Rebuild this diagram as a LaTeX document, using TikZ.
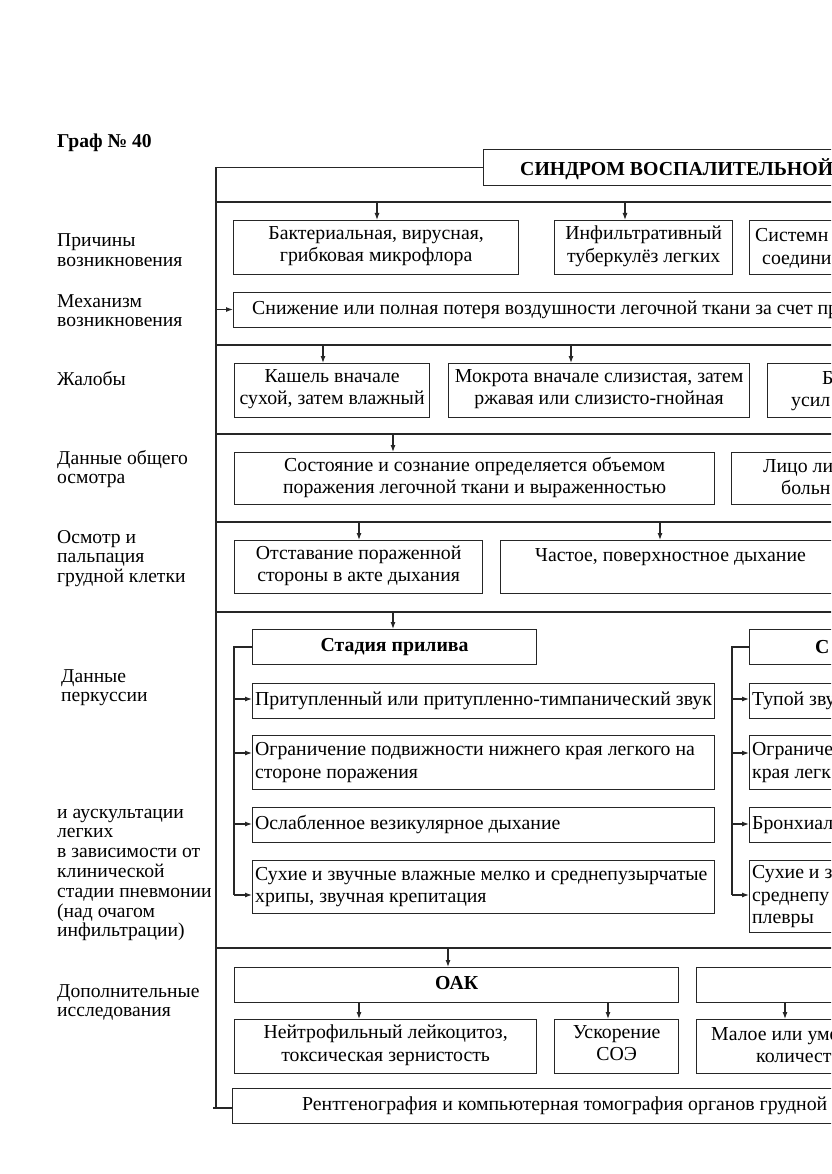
\documentclass[tikz,border=0pt]{standalone}
\usepackage{fontspec}
\setmainfont{Liberation Serif}
\usetikzlibrary{arrows.meta}
\newcommand\lbltab[1]{\begin{tabular}[t]{@{}l@{}}#1\end{tabular}}
\newcommand\bxfont{\fontsize{19.8}{22.5}\selectfont}
\tikzset{
  ln/.style={line width=1.15pt, draw=black!85},
  arr/.style={ln, -{Latex[length=7pt,width=5pt]}},
  bx/.style={draw=black!85, line width=1.25pt, inner sep=0pt, anchor=north west,
    font=\bxfont, align=center, execute at begin node=\strut, execute at end node=\strut},
  lbx/.style={bx, align=flush left, inner xsep=2.5pt},
  lab/.style={font=\fontsize{19.6}{19.8}\selectfont, inner sep=0pt, anchor=base west},
  frag/.style={font=\bxfont, inner sep=0pt, anchor=base west},
  boldtxt/.style={font=\bxfont\bfseries},
}
\begin{document}
\begin{tikzpicture}[x=1pt,y=-1pt]
\useasboundingbox (0,0) rectangle (831,1174);
\fill[white] (0,0) rectangle (831,1174);
\clip (0,0) rectangle (831,1174);

% left labels
\node[lab, font=\fontsize{19.6}{19.8}\selectfont\bfseries] (graf) at (57,148) {Граф № 40};
\node[lab] (l1) at (57,247) {\lbltab{Причины\\возникновения}};
\node[lab] (l2) at (57,307) {\lbltab{Механизм\\возникновения}};
\node[lab] (l3) at (57,385) {Жалобы};
\node[lab] (l4) at (57,464) {\lbltab{Данные общего\\осмотра}};
\node[lab] (l5) at (57,543) {\lbltab{Осмотр и\\пальпация\\грудной клетки}};
\node[lab] (l6) at (61,682) {\lbltab{Данные\\перкуссии}};
\node[lab] (l7) at (57,818) {\lbltab{и аускультации\\легких\\в зависимости от\\клинической\\стадии пневмонии\\(над очагом\\инфильтрации)}};
\node[lab] (l8) at (57,997) {\lbltab{Дополнительные\\исследования}};

% title
\node[bx, minimum width=420pt, minimum height=36pt] (title) at (483,149) {};
\node[frag, boldtxt] (titletxt) at (520,176) {СИНДРОМ ВОСПАЛИТЕЛЬНОЙ};

% bus
\coordinate (busend) at (216,1108);
\draw[ln] (title.west) -| (busend);

% row: causes
\coordinate (sep1) at (216,202);
\draw[ln] (sep1) -- ++(700,0);
\node[bx, minimum width=285pt, minimum height=54pt] (b1) at (233,220) {Бактериальная, вирусная,\\грибковая микрофлора};
\node[bx, minimum width=178pt, minimum height=54pt] (b2) at (554,220) {Инфильтративный\\туберкулёз легких};
\node[bx, minimum width=200pt, minimum height=54pt] (b3) at (749,220) {};
\node[frag] (b3a) at (755,242) {Системн};
\node[frag] (b3b) at (762,264) {соедини};
\coordinate (a11) at (377,202);
\coordinate (a12) at (625,202);
\draw[arr] (a11) -- (a11 |- b1.north);
\draw[arr] (a12) -- (a12 |- b2.north);

% mechanism
\node[bx, minimum width=650pt, minimum height=35pt] (mech) at (233,292) {};
\node[frag] (mecht) at (252,314) {Снижение или полная потеря воздушности легочной ткани за счет пр};
\coordinate (m0) at (216,309.5);
\draw[arr] (m0) -- (m0 -| mech.west);

% complaints
\coordinate (sep2) at (216,345);
\draw[ln] (sep2) -- ++(700,0);
\node[bx, minimum width=195pt, minimum height=54pt] (c1) at (234,363) {Кашель вначале\\сухой, затем влажный};
\node[bx, minimum width=301pt, minimum height=54pt] (c2) at (448,363) {Мокрота вначале слизистая, затем\\ржавая или слизисто-гнойная};
\node[bx, minimum width=200pt, minimum height=54pt] (c3) at (767,363) {};
\node[frag] (c3a) at (822,384) {Б};
\node[frag] (c3b) at (791,406) {усил};
\coordinate (a21) at (323,345);
\coordinate (a22) at (571,345);
\draw[arr] (a21) -- (a21 |- c1.north);
\draw[arr] (a22) -- (a22 |- c2.north);

% general examination
\coordinate (sep3) at (216,434);
\draw[ln] (sep3) -- ++(700,0);
\node[bx, minimum width=480pt, minimum height=52pt] (d1) at (234,452) {Состояние и сознание определяется объемом\\поражения легочной ткани и выраженностью};
\node[bx, minimum width=200pt, minimum height=52pt] (d2) at (731,452) {};
\node[frag] (d2a) at (763,472) {Лицо ли};
\node[frag] (d2b) at (781,494) {больн};
\coordinate (a31) at (393,434);
\draw[arr] (a31) -- (a31 |- d1.north);

% inspection and palpation
\coordinate (sep4) at (216,522);
\draw[ln] (sep4) -- ++(700,0);
\node[bx, minimum width=248pt, minimum height=53pt] (e1) at (234,540) {Отставание пораженной\\стороны в акте дыхания};
\node[bx, minimum width=400pt, minimum height=53pt] (e2) at (500,540) {};
\node[frag] (e2a) at (535,561) {Частое, поверхностное дыхание};
\coordinate (a41) at (359,522);
\coordinate (a42) at (660,522);
\draw[arr] (a41) -- (a41 |- e1.north);
\draw[arr] (a42) -- (a42 |- e2.north);

% percussion / auscultation
\coordinate (sep5) at (216,612);
\draw[ln] (sep5) -- ++(700,0);
\node[bx, boldtxt, minimum width=284pt, minimum height=35pt] (st1) at (252,629) {Стадия прилива};
\node[bx, minimum width=200pt, minimum height=35pt] (st2) at (749,629) {};
\node[frag, boldtxt] (st2a) at (815,653) {С};
\coordinate (a51) at (393,612);
\draw[arr] (a51) -- (a51 |- st1.north);

\node[lbx, text width=457pt, minimum height=35pt] (p1) at (252,683) {Притупленный или притупленно-тимпанический звук};
\node[lbx, text width=457pt, minimum height=54pt] (p2) at (252,735) {Ограничение подвижности нижнего края легкого на\\стороне поражения};
\node[lbx, text width=457pt, minimum height=35pt] (p3) at (252,807) {Ослабленное везикулярное дыхание};
\node[lbx, text width=457pt, minimum height=53pt] (p4) at (252,860) {Сухие и звучные влажные мелко и среднепузырчатые\\хрипы, звучная крепитация};

\node[lbx, text width=195pt, minimum height=35pt] (q1) at (749,683) {Тупой зву};
\node[lbx, text width=195pt, minimum height=54pt] (q2) at (749,735) {Ограниче\\края легк};
\node[lbx, text width=195pt, minimum height=35pt] (q3) at (749,807) {Бронхиал};
\node[lbx, text width=195pt, minimum height=72pt] (q4) at (749,860) {Сухие и з\\среднепу\\плевры};

\coordinate (k1t) at (234,647);
\coordinate (k1b) at (234,895);
\draw[ln] (st1.west |- k1t) -- (k1t) -- (k1b);
\coordinate (k2t) at (732,647);
\coordinate (k2b) at (732,895);
\draw[ln] (st2.west |- k2t) -- (k2t) -- (k2b);

\coordinate (h1) at (234,699);
\coordinate (h2) at (234,753);
\coordinate (h3) at (234,824);
\coordinate (h4) at (234,895);
\draw[arr] (h1) -- (h1 -| p1.west);
\draw[arr] (h2) -- (h2 -| p2.west);
\draw[arr] (h3) -- (h3 -| p3.west);
\draw[arr] (h4) -- (h4 -| p4.west);
\coordinate (g1) at (732,699);
\coordinate (g2) at (732,753);
\coordinate (g3) at (732,824);
\coordinate (g4) at (732,895);
\draw[arr] (g1) -- (g1 -| q1.west);
\draw[arr] (g2) -- (g2 -| q2.west);
\draw[arr] (g3) -- (g3 -| q3.west);
\draw[arr] (g4) -- (g4 -| q4.west);

% additional investigations
\coordinate (sep6) at (216,948);
\draw[ln] (sep6) -- ++(700,0);
\node[bx, boldtxt, minimum width=444pt, minimum height=35pt] (oak) at (234,967) {ОАК};
\node[bx, minimum width=200pt, minimum height=35pt] (r2) at (696,967) {};
\coordinate (a61) at (448,948);
\draw[arr] (a61) -- (a61 |- oak.north);

\node[bx, minimum width=302pt, minimum height=54pt] (f1) at (234,1019) {Нейтрофильный лейкоцитоз,\\токсическая зернистость};
\node[bx, minimum width=124pt, minimum height=54pt] (f2) at (554,1019) {Ускорение\\СОЭ};
\node[bx, minimum width=200pt, minimum height=54pt] (f3) at (696,1019) {};
\node[frag] (f3a) at (711,1040) {Малое или уме};
\node[frag] (f3b) at (756,1062) {количест};
\coordinate (o1) at (359,1002);
\coordinate (o2) at (608,1002);
\coordinate (o3) at (785,1002);
\draw[arr] (o1 |- oak.south) -- (o1 |- f1.north);
\draw[arr] (o2 |- oak.south) -- (o2 |- f2.north);
\draw[arr] (o3 |- r2.south) -- (o3 |- f3.north);

\node[bx, minimum width=650pt, minimum height=35pt] (bot) at (232,1088) {};
\node[frag] (bott) at (302,1110) {Рентгенография и компьютерная томография органов грудной};
\coordinate (stub) at (213,1108);
\draw[ln] (stub) -- (stub -| bot.west);
\end{tikzpicture}
\end{document}
